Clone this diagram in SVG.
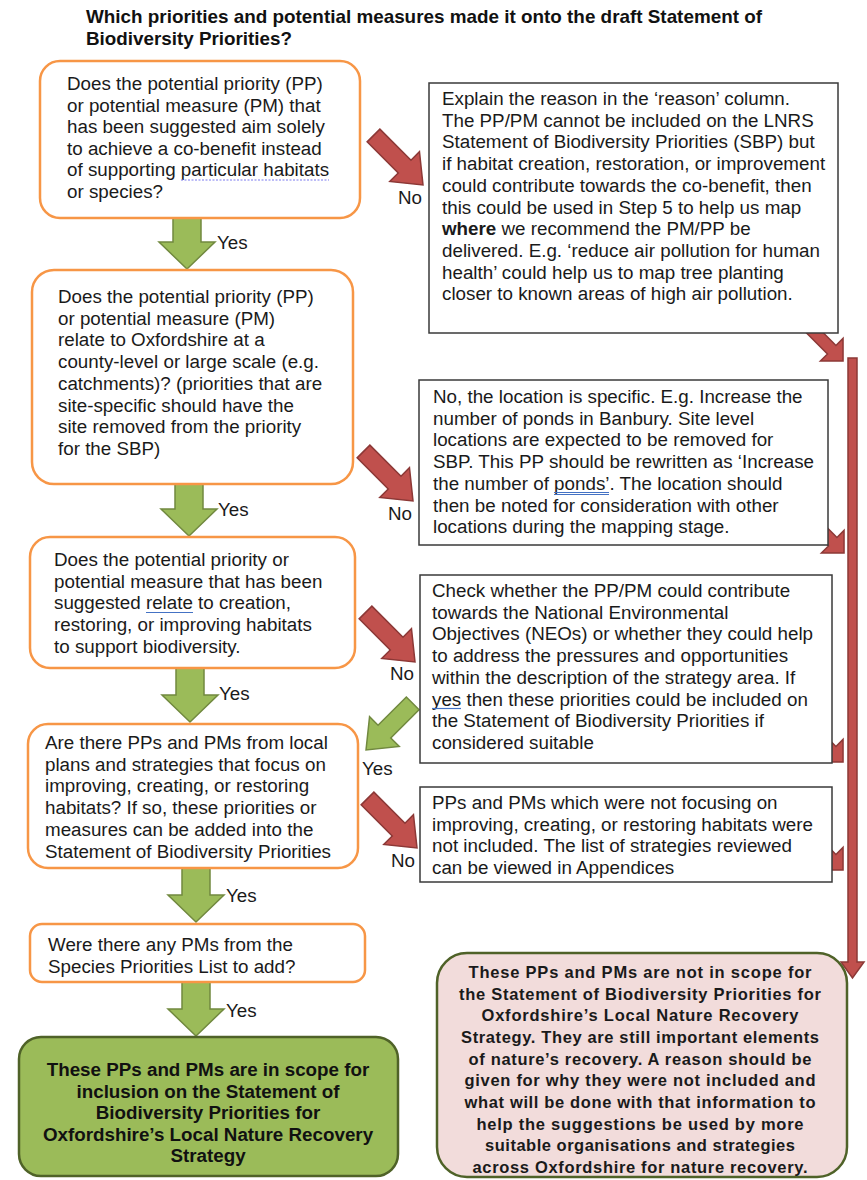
<svg xmlns="http://www.w3.org/2000/svg" xmlns:xlink="http://www.w3.org/1999/xlink" width="867" height="1180" viewBox="0 0 867 1180">
<style>
.t{font-family:"Liberation Sans",Arial,sans-serif;font-size:18.8px;fill:#1a1a1a}
.b{font-weight:bold}
.ttl{font-family:"Liberation Sans Narrow","Liberation Sans",Arial,sans-serif;font-size:19px;font-weight:bold;fill:#111}
.q{fill:#fff;stroke:#f79646;stroke-width:2.5}
.r{fill:#fff;stroke:#3a3a3a;stroke-width:1.5}
.ga{fill:#9bbb59;stroke:#71893f;stroke-width:1.5}
.ra{fill:#c0504d;stroke:#8c3836;stroke-width:1.5}
.gb{fill:#9bbb59;stroke:#4f6228;stroke-width:2.5}
.pb{fill:#f2dcdb;stroke:#4f6228;stroke-width:2.5}
.ul{stroke:#4472c4;stroke-width:1.2;fill:none}
.pc{font-family:"Liberation Sans",Arial,sans-serif;font-size:16.5px;font-weight:bold;fill:#1a1a1a;text-anchor:middle}
.gc{font-family:"Liberation Sans",Arial,sans-serif;font-size:18.8px;font-weight:bold;fill:#111;text-anchor:middle}
</style>
<defs>
<path id="bigR" d="M0,-9 H44 V-21 L70,0 L44,21 V9 H0 Z"/>
<path id="bigG" d="M0,-9 H40 V-21 L66,0 L40,21 V9 H0 Z"/>
<path id="smR" d="M0,-6 H31 V-16 L47,0 L31,16 V6 H0 Z"/>
</defs>

<g id="title">
<text class="ttl" x="86" y="23" textLength="676" lengthAdjust="spacingAndGlyphs">Which priorities and potential measures made it onto the draft Statement of</text>
<text class="ttl" x="86" y="45" textLength="206" lengthAdjust="spacingAndGlyphs">Biodiversity Priorities?</text>
</g>

<g id="connectors">
<path class="ga" d="M173,218 H201 V242 H215 L187,269 L159,242 H173 Z"/>
<path class="ga" d="M175,484 H203 V509 H217 L189,536 L161,509 H175 Z"/>
<path class="ga" d="M176,668 H204 V695 H218 L190,722 L162,695 H176 Z"/>
<path class="ga" d="M182,868 H210 V895 H224 L196,922 L168,895 H182 Z"/>
<path class="ga" d="M182,982 H210 V1009 H224 L196,1036 L168,1009 H182 Z"/>
<use href="#bigG" class="ga" transform="translate(412.7,703.3) rotate(135)"/>
<use href="#bigR" class="ra" transform="translate(373.5,135.5) rotate(45)"/>
<use href="#bigR" class="ra" transform="translate(363.5,451.5) rotate(45)"/>
<use href="#bigR" class="ra" transform="translate(365.5,612.5) rotate(45)"/>
<use href="#bigR" class="ra" transform="translate(367.5,798.5) rotate(45)"/>
<use href="#smR" class="ra" transform="translate(809.8,327.8) rotate(45)"/>
<use href="#smR" class="ra" transform="translate(810.8,519.8) rotate(45)"/>
<use href="#smR" class="ra" transform="translate(809.8,728.8) rotate(45)"/>
<use href="#smR" class="ra" transform="translate(809.8,836.8) rotate(45)"/>
<path class="ra" d="M848,358 H857 V962 H864 L852.5,978 L841,962 H848 Z"/>
<text class="t" x="217" y="249">Yes</text>
<text class="t" x="218" y="516">Yes</text>
<text class="t" x="219" y="700">Yes</text>
<text class="t" x="226" y="902">Yes</text>
<text class="t" x="226" y="1017">Yes</text>
<text class="t" x="362" y="775">Yes</text>
<text class="t" x="398" y="204">No</text>
<text class="t" x="388" y="520">No</text>
<text class="t" x="390" y="680">No</text>
<text class="t" x="391" y="867">No</text>
</g>

<g id="q1">
<rect class="q" x="40" y="61" width="320" height="157" rx="20"/>
<text class="t" x="67" y="90"><tspan x="67">Does the potential priority (PP)</tspan><tspan x="67" dy="21.5">or potential measure (PM) that</tspan><tspan x="67" dy="21.5">has been suggested aim solely</tspan><tspan x="67" dy="21.5">to achieve a co-benefit instead</tspan><tspan x="67" dy="21.5">of supporting particular habitats</tspan><tspan x="67" dy="21.5">or species?</tspan></text>
<line x1="181" y1="180" x2="329" y2="180" stroke="#7b7bf0" stroke-width="1.2" stroke-dasharray="2,1.5"/>
</g>

<g id="r1">
<rect class="r" x="429" y="83" width="409" height="250"/>
<text class="t" x="442" y="105"><tspan x="442">Explain the reason in the ‘reason’ column.</tspan><tspan x="442" dy="21.7">The PP/PM cannot be included on the LNRS</tspan><tspan x="442" dy="21.7">Statement of Biodiversity Priorities (SBP) but</tspan><tspan x="442" dy="21.7">if habitat creation, restoration, or improvement</tspan><tspan x="442" dy="21.7">could contribute towards the co-benefit, then</tspan><tspan x="442" dy="21.7">this could be used in Step 5 to help us map</tspan><tspan x="442" dy="21.7"><tspan class="b">where</tspan> we recommend the PM/PP be</tspan><tspan x="442" dy="21.7">delivered. E.g. ‘reduce air pollution for human</tspan><tspan x="442" dy="21.7">health’ could help us to map tree planting</tspan><tspan x="442" dy="21.7">closer to known areas of high air pollution.</tspan></text>
</g>

<g id="q2">
<rect class="q" x="32" y="270" width="321" height="214" rx="22"/>
<text class="t" x="58" y="303"><tspan x="58">Does the potential priority (PP)</tspan><tspan x="58" dy="21.7">or potential measure (PM)</tspan><tspan x="58" dy="21.7">relate to Oxfordshire at a</tspan><tspan x="58" dy="21.7">county-level or large scale (e.g.</tspan><tspan x="58" dy="21.7">catchments)? (priorities that are</tspan><tspan x="58" dy="21.7">site-specific should have the</tspan><tspan x="58" dy="21.7">site removed from the priority</tspan><tspan x="58" dy="21.7">for the SBP)</tspan></text>
</g>

<g id="r2">
<rect class="r" x="419" y="380" width="409" height="165"/>
<text class="t" x="433" y="403"><tspan x="433">No, the location is specific. E.g. Increase the</tspan><tspan x="433" dy="21.7">number of ponds in Banbury. Site level</tspan><tspan x="433" dy="21.7">locations are expected to be removed for</tspan><tspan x="433" dy="21.7">SBP. This PP should be rewritten as ‘Increase</tspan><tspan x="433" dy="21.7">the number of ponds’. The location should</tspan><tspan x="433" dy="21.7">then be noted for consideration with other</tspan><tspan x="433" dy="21.7">locations during the mapping stage.</tspan></text>
<path class="ul" d="M554,492.5 H609 M554,494.5 H609"/>
</g>

<g id="q3">
<rect class="q" x="30" y="537" width="325" height="131" rx="20"/>
<text class="t" x="54" y="566"><tspan x="54">Does the potential priority or</tspan><tspan x="54" dy="21.7">potential measure that has been</tspan><tspan x="54" dy="21.7">suggested relate to creation,</tspan><tspan x="54" dy="21.7">restoring, or improving habitats</tspan><tspan x="54" dy="21.7">to support biodiversity.</tspan></text>
<path class="ul" d="M146,612.5 H193"/>
</g>

<g id="r3">
<rect class="r" x="420" y="575" width="412" height="188"/>
<text class="t" x="432" y="597"><tspan x="432">Check whether the PP/PM could contribute</tspan><tspan x="432" dy="21.7">towards the National Environmental</tspan><tspan x="432" dy="21.7">Objectives (NEOs) or whether they could help</tspan><tspan x="432" dy="21.7">to address the pressures and opportunities</tspan><tspan x="432" dy="21.7">within the description of the strategy area. If</tspan><tspan x="432" dy="21.7">yes then these priorities could be included on</tspan><tspan x="432" dy="21.7">the Statement of Biodiversity Priorities if</tspan><tspan x="432" dy="21.7">considered suitable</tspan></text>
<path class="ul" d="M432,708.5 H461"/>
</g>

<g id="q4">
<rect class="q" x="28" y="724" width="330" height="144" rx="20"/>
<text class="t" x="45" y="749"><tspan x="45">Are there PPs and PMs from local</tspan><tspan x="45" dy="21.7">plans and strategies that focus on</tspan><tspan x="45" dy="21.7">improving, creating, or restoring</tspan><tspan x="45" dy="21.7">habitats? If so, these priorities or</tspan><tspan x="45" dy="21.7">measures can be added into the</tspan><tspan x="45" dy="21.7">Statement of Biodiversity Priorities</tspan></text>
</g>

<g id="r4">
<rect class="r" x="420" y="787" width="412" height="95"/>
<text class="t" x="432" y="809"><tspan x="432">PPs and PMs which were not focusing on</tspan><tspan x="432" dy="21.7">improving, creating, or restoring habitats were</tspan><tspan x="432" dy="21.7">not included. The list of strategies reviewed</tspan><tspan x="432" dy="21.7">can be viewed in Appendices</tspan></text>
</g>

<g id="q5">
<rect class="q" x="30" y="924" width="335" height="58" rx="12"/>
<text class="t" x="48" y="951"><tspan x="48">Were there any PMs from the</tspan><tspan x="48" dy="21.7">Species Priorities List to add?</tspan></text>
</g>

<g id="inscope">
<rect class="gb" x="19" y="1037" width="379" height="139" rx="22"/>
<text class="gc" x="208" y="1076"><tspan x="208">These PPs and PMs are in scope for</tspan><tspan x="208" dy="21.6">inclusion on the Statement of</tspan><tspan x="208" dy="21.6">Biodiversity Priorities for</tspan><tspan x="208" dy="21.6">Oxfordshire’s Local Nature Recovery</tspan><tspan x="208" dy="21.6">Strategy</tspan></text>
</g>

<g id="outscope">
<rect class="pb" x="437" y="953" width="410" height="224" rx="30"/>
<text class="pc" x="640" y="978" textLength="343" lengthAdjust="spacing">These PPs and PMs are not in scope for</text>
<text class="pc" x="640" y="999.7" textLength="362" lengthAdjust="spacing">the Statement of Biodiversity Priorities for</text>
<text class="pc" x="640" y="1021.3" textLength="317" lengthAdjust="spacing">Oxfordshire’s Local Nature Recovery</text>
<text class="pc" x="640" y="1043" textLength="358" lengthAdjust="spacing">Strategy. They are still important elements</text>
<text class="pc" x="640" y="1064.7" textLength="343" lengthAdjust="spacing">of nature’s recovery. A reason should be</text>
<text class="pc" x="640" y="1086.3" textLength="351" lengthAdjust="spacing">given for why they were not included and</text>
<text class="pc" x="640" y="1108" textLength="351" lengthAdjust="spacing">what will be done with that information to</text>
<text class="pc" x="640" y="1129.7" textLength="327" lengthAdjust="spacing">help the suggestions be used by more</text>
<text class="pc" x="640" y="1151.3" textLength="310" lengthAdjust="spacing">suitable organisations and strategies</text>
<text class="pc" x="640" y="1173" textLength="335" lengthAdjust="spacing">across Oxfordshire for nature recovery.</text>
</g>
</svg>
